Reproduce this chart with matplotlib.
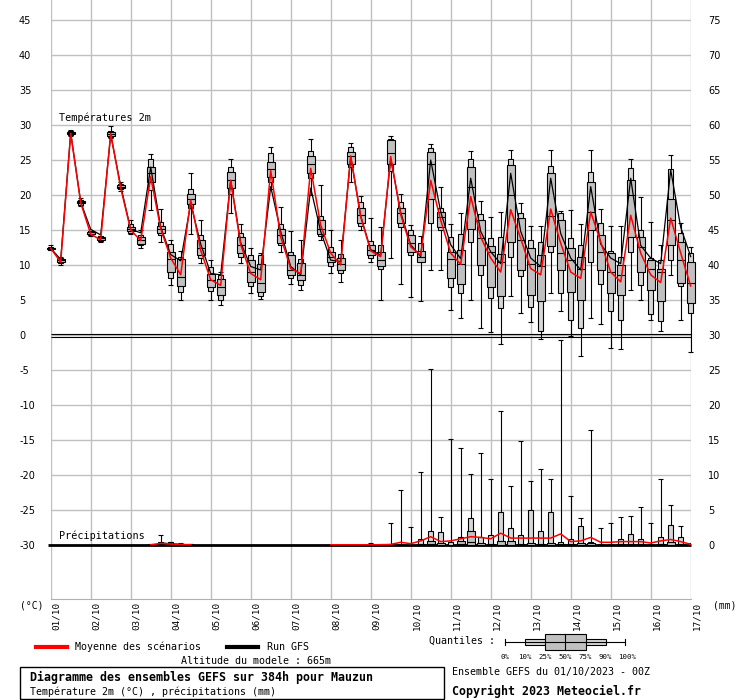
import numpy as np
import matplotlib.pyplot as plt
from matplotlib.patches import Rectangle
from matplotlib.lines import Line2D
from matplotlib.transforms import ScaledTranslation

plt.rcParams['axes.unicode_minus'] = False
MONO = 'DejaVu Sans Mono'

# days on the x axis, one box every 6h (0h .. 384h)
days = ['01/10', '02/10', '03/10', '04/10', '05/10', '06/10', '07/10', '08/10', '09/10',
        '10/10', '11/10', '12/10', '13/10', '14/10', '15/10', '16/10', '17/10']

# 2m temperature quantiles (degC)
t_p0 = [12.1, 10.0, 28.4, 18.4, 14.1, 13.3, 28.2, 20.6, 14.4, 12.4,
        17.9, 13.3, 7.1, 5.0, 14.4, 10.3, 5.0, 4.3, 17.5, 10.3,
        6.0, 5.1, 20.8, 11.9, 7.3, 6.4, 20.0, 13.6, 8.9, 7.6,
        21.9, 15.0, 10.5, 5.0, 11.0, 7.3, 5.5, 4.9, 9.3, 9.3,
        3.6, 2.5, 5.0, 1.0, 0.4, -1.3, 5.6, 3.1, 1.8, -0.5,
        6.0, 3.5, -0.2, -3.0, 2.5, 1.6, -1.9, -2.0, 6.5, 5.0,
        2.2, 0.6, 8.6, 2.1, -2.4]
t_p10 = [12.2, 10.3, 28.6, 18.6, 14.3, 13.5, 28.3, 20.8, 14.6, 12.8,
         20.7, 14.3, 8.2, 6.2, 18.1, 11.0, 6.3, 5.0, 20.2, 11.2,
         7.0, 5.6, 21.9, 12.9, 8.2, 7.2, 22.5, 14.2, 9.8, 8.8,
         24.0, 15.6, 11.0, 9.4, 23.5, 15.4, 11.4, 10.4, 16.0, 15.0,
         6.9, 6.0, 13.3, 8.6, 5.3, 3.8, 11.2, 8.4, 4.0, 0.6,
         11.9, 6.0, 2.2, 1.0, 10.5, 7.3, 3.4, 2.1, 11.9, 7.1,
         3.0, 2.0, 10.7, 7.0, 3.2]
t_p25 = [12.3, 10.5, 28.7, 18.8, 14.4, 13.6, 28.5, 21.0, 14.8, 13.0,
         21.9, 14.6, 9.0, 7.0, 18.7, 11.4, 6.9, 5.7, 21.0, 11.7,
         7.6, 6.2, 22.6, 13.1, 8.6, 7.8, 23.2, 14.5, 10.5, 9.3,
         24.5, 16.0, 11.4, 9.8, 24.5, 16.0, 11.9, 10.5, 19.5, 15.5,
         8.1, 7.3, 15.2, 10.0, 6.9, 5.6, 13.3, 9.3, 5.7, 4.8,
         12.7, 9.3, 6.2, 5.0, 15.0, 9.3, 6.0, 5.7, 14.0, 9.0,
         6.4, 4.8, 12.9, 7.4, 4.6]
t_p50 = [12.4, 10.7, 28.8, 19.0, 14.5, 13.8, 28.7, 21.2, 15.1, 13.6,
         23.1, 15.1, 10.8, 8.3, 19.5, 12.5, 7.9, 6.9, 22.2, 12.9,
         9.0, 7.5, 23.7, 14.3, 9.3, 8.6, 24.5, 15.2, 11.2, 10.1,
         25.6, 17.1, 12.1, 10.7, 26.0, 17.5, 13.1, 11.2, 24.5, 16.8,
         10.8, 10.2, 21.2, 13.8, 11.9, 10.5, 20.0, 13.6, 10.1, 9.8,
         17.0, 11.7, 10.7, 9.5, 17.6, 11.9, 9.0, 8.6, 20.0, 12.6,
         9.5, 9.0, 16.4, 10.7, 7.5]
t_p75 = [12.5, 10.9, 29.0, 19.2, 14.7, 14.0, 29.0, 21.4, 15.4, 14.0,
         24.0, 15.6, 11.9, 10.8, 20.2, 13.6, 8.7, 8.0, 23.3, 14.0,
         10.7, 10.1, 24.7, 15.2, 11.4, 10.3, 25.6, 16.4, 11.9, 11.0,
         26.2, 18.2, 12.9, 11.9, 27.8, 18.2, 14.3, 12.0, 26.1, 17.6,
         11.9, 12.2, 24.0, 16.4, 12.7, 11.6, 24.3, 16.7, 12.4, 11.4,
         23.1, 16.4, 12.4, 11.2, 21.9, 14.3, 11.7, 10.0, 22.1, 14.0,
         10.7, 9.5, 19.4, 13.3, 10.5]
t_p90 = [12.6, 11.0, 29.1, 19.3, 14.8, 14.1, 29.2, 21.6, 15.8, 14.3,
         25.1, 16.2, 13.0, 11.2, 20.8, 14.3, 9.7, 8.6, 24.0, 14.6,
         11.5, 11.4, 26.0, 15.8, 11.8, 10.8, 26.3, 17.0, 12.6, 11.6,
         26.8, 19.0, 13.5, 12.8, 28.0, 19.0, 15.0, 13.2, 26.7, 18.2,
         14.0, 14.4, 25.2, 17.3, 13.8, 14.0, 25.1, 17.4, 13.6, 13.3,
         24.1, 17.4, 13.8, 12.9, 23.3, 16.0, 12.0, 11.2, 23.9, 15.0,
         11.0, 10.7, 23.7, 14.6, 11.7]
t_p100 = [12.8, 11.2, 29.3, 19.6, 14.9, 14.2, 29.8, 21.9, 16.4, 15.0,
          25.9, 18.0, 13.6, 12.0, 23.2, 16.4, 10.7, 9.0, 25.1, 15.9,
          12.4, 11.7, 26.9, 18.3, 14.8, 13.6, 28.0, 21.5, 15.0, 13.6,
          27.5, 19.8, 16.7, 15.5, 28.4, 20.2, 15.7, 14.2, 27.3, 21.2,
          15.8, 17.5, 26.3, 19.1, 16.8, 17.6, 26.5, 18.9, 15.6, 15.6,
          26.5, 17.7, 17.8, 15.9, 26.4, 18.0, 15.6, 15.6, 25.2, 19.7,
          16.2, 12.9, 25.7, 16.0, 12.6]
t_mean = [12.4, 10.4, 28.8, 18.9, 14.4, 13.6, 28.8, 21.0, 15.0, 13.5,
          22.6, 15.2, 11.0, 8.6, 19.3, 12.1, 7.9, 7.1, 22.1, 12.9,
          8.8, 7.9, 23.5, 14.0, 9.5, 8.8, 23.8, 15.7, 11.7, 10.0,
          25.6, 16.9, 12.0, 11.2, 25.5, 17.2, 12.6, 11.4, 22.1, 16.4,
          11.7, 10.1, 19.8, 14.0, 11.0, 9.0, 17.9, 13.8, 9.5, 8.6,
          18.0, 13.1, 9.0, 8.1, 17.6, 13.3, 9.0, 7.6, 17.1, 11.7,
          8.6, 7.5, 16.7, 11.7, 7.0]
t_gfs = [12.4, 10.8, 28.9, 19.0, 15.1, 14.3, 28.6, 21.3, 15.1, 14.6,
         24.0, 15.4, 11.5, 10.6, 18.8, 13.0, 8.8, 8.6, 22.1, 13.2,
         9.8, 9.3, 21.2, 14.8, 9.8, 8.6, 21.0, 14.8, 10.7, 10.5,
         25.5, 17.0, 12.2, 11.4, 25.2, 17.5, 12.9, 11.2, 25.0, 17.6,
         12.9, 10.9, 22.4, 14.8, 11.9, 10.2, 23.1, 14.8, 11.0, 9.8,
         22.4, 14.5, 11.0, 9.3, 21.2, 13.0, 11.0, 10.2, 22.4, 12.8,
         11.0, 10.2, 23.6, 15.4, 11.2]

# precipitation quantiles (mm), lower quantiles are 0
p_p50 = [0, 0, 0, 0, 0, 0, 0, 0, 0, 0,
         0, 0, 0, 0, 0, 0, 0, 0, 0, 0,
         0, 0, 0, 0, 0, 0, 0, 0, 0, 0,
         0, 0, 0, 0, 0, 0, 0, 0, 0.1, 0,
         0, 0.1, 0.4, 0, 0, 0, 0, 0, 0, 0,
         0, 0, 0, 0, 0, 0, 0, 0, 0, 0,
         0, 0, 0, 0, 0]
p_p75 = [0, 0, 0, 0, 0, 0, 0, 0, 0, 0,
         0, 0.2, 0.1, 0, 0, 0, 0, 0, 0, 0,
         0, 0, 0, 0, 0, 0, 0, 0, 0, 0,
         0, 0, 0, 0, 0, 0, 0, 0.2, 0.6, 0.3,
         0, 0.6, 2.0, 0.3, 0.2, 0.6, 0.6, 0.2, 0.3, 0.2,
         0.3, 0.1, 0.1, 0.3, 0.3, 0, 0, 0.2, 0.2, 0.2,
         0, 0.2, 0.4, 0.2, 0]
p_p90 = [0, 0, 0, 0, 0, 0, 0, 0, 0, 0,
         0, 0.5, 0.4, 0.2, 0.1, 0, 0, 0, 0, 0,
         0, 0, 0, 0, 0, 0, 0, 0, 0, 0,
         0, 0, 0, 0, 0, 0.1, 0, 0.8, 2.0, 1.9,
         0.4, 1.1, 3.8, 1.2, 1.5, 4.7, 2.4, 1.5, 5.0, 2.0,
         4.7, 0.5, 0.8, 2.7, 0.5, 0.1, 0.2, 0.8, 1.6, 0.8,
         0.2, 1.1, 2.9, 1.1, 0.1]
p_max = [0, 0, 0, 0, 0, 0, 0, 0, 0, 0,
         0.1, 1.5, 0.5, 0.3, 0.2, 0, 0, 0, 0, 0,
         0, 0, 0, 0, 0, 0, 0, 0, 0, 0,
         0, 0, 0.3, 0.2, 3.1, 7.8, 2.6, 10.5, 25.2, 4.0,
         15.1, 13.8, 10.2, 13.2, 9.5, 19.2, 8.4, 14.8, 9.2, 10.8,
         9.5, 29.3, 7.0, 3.8, 16.4, 2.4, 3.2, 4.0, 4.1, 5.5,
         3.1, 9.5, 5.7, 2.7, 0.3]
p_mean = [0, 0, 0, 0, 0, 0, 0, 0, 0, 0,
          0.05, 0.25, 0.15, 0.1, 0.05, 0, 0, 0, 0, 0,
          0, 0, 0, 0, 0, 0, 0, 0, 0.05, 0.05,
          0.05, 0.05, 0.05, 0.05, 0.1, 0.4, 0.2, 0.6, 1.2, 0.5,
          0.6, 0.9, 1.2, 1.1, 0.9, 1.7, 1.0, 1.0, 1.0, 1.0,
          1.0, 1.6, 0.5, 0.6, 1.1, 0.4, 0.4, 0.5, 0.5, 0.5,
          0.3, 0.6, 0.8, 0.5, 0.1]
p_gfs = [0, 0, 0, 0, 0, 0, 0, 0, 0, 0,
         0, 0.3, 0.2, 0.1, 0, 0, 0, 0, 0, 0,
         0, 0, 0, 0, 0, 0, 0, 0, 0, 0,
         0, 0, 0, 0, 0, 0, 0, 0, 0, 0,
         0, 0, 0, 0, 0, 0, 0, 0, 0, 0,
         0, 0, 0, 0, 0, 0, 0, 0, 0, 0,
         0, 0, 0, 0, 0]

W, H = 740, 700
fx = lambda px: px / W
fy = lambda py: 1 - py / H

fig = plt.figure(figsize=(7.4, 7.0), dpi=100)
ax = fig.add_axes([fx(50.7), fy(599), fx(690.7) - fx(50.7), fy(0) - fy(599)])
ylo, yhi = -37.7, 335 / 7.0
ax.set_xlim(0, 16)
ax.set_ylim(ylo, yhi)

x = np.arange(len(t_p50)) * 0.25
t_p0, t_p10, t_p25, t_p50, t_p75, t_p90, t_p100 = map(np.array, (t_p0, t_p10, t_p25, t_p50, t_p75, t_p90, t_p100))

# grid
ax.set_xticks(range(len(days)))
ax.set_xticklabels(days, rotation=90, family=MONO, fontsize=6.7)
ax.set_yticks(range(-30, 50, 5))
ax.grid(True, color='#c0c0c0', lw=1)
ax.set_axisbelow(True)
for s in ('left', 'right', 'top'):
    ax.spines[s].set_visible(False)
ax.spines['bottom'].set_color('#b0b0b0')
ax.tick_params(axis='x', length=0, pad=2)
ax.tick_params(axis='y', length=0, pad=22.8, labelsize=7)
for lbl in ax.get_yticklabels():
    lbl.set_horizontalalignment('left')
off = ScaledTranslation(0.06, 0, fig.dpi_scale_trans)
for lbl in ax.get_xticklabels():
    lbl.set_transform(lbl.get_transform() + off)

# double zero line
ax.hlines([0.22, -0.22], 0, 16, color='black', lw=0.8, zorder=2)

# temperature boxes
ax.vlines(x, t_p0, t_p100, color='black', lw=0.8, zorder=3, clip_on=False)
ax.hlines(t_p0, x - 0.06, x + 0.06, color='black', lw=0.8, zorder=3, clip_on=False)
ax.hlines(t_p100, x - 0.06, x + 0.06, color='black', lw=0.8, zorder=3, clip_on=False)
b1 = ax.bar(x, t_p90 - t_p10, bottom=t_p10, width=0.125, color='#d6d6d6',
            edgecolor='black', lw=0.8, zorder=4)
b2 = ax.bar(x, t_p75 - t_p25, bottom=t_p25, width=0.2, color='#c0c0c0',
            edgecolor='black', lw=0.8, zorder=5)
for p in list(b1) + list(b2):
    p.set_clip_on(False)
ax.hlines(t_p50, x - 0.1, x + 0.1, color='black', lw=0.8, zorder=6, clip_on=False)
ax.plot(x, t_gfs, color='black', lw=0.9, zorder=7, clip_on=False)
ax.plot(x, t_mean, color='red', lw=1.1, zorder=8, clip_on=False)

# precipitation on the right scale (0 mm at -30 degC)
ax2 = ax.twinx()
ax2.set_ylim(ylo + 30, yhi + 30)
ax2.set_yticks(range(0, 80, 5))
ax2.tick_params(axis='y', length=0, pad=12.5, labelsize=7)
for s in ax2.spines.values():
    s.set_visible(False)

p_p50, p_p75, p_p90, p_max, p_mean, p_gfs = map(np.array, (p_p50, p_p75, p_p90, p_max, p_mean, p_gfs))
ax2.hlines(0, -0.08, 16, color='black', lw=2, zorder=2, clip_on=False)
m = p_max > 0
ax2.vlines(x[m], 0, p_max[m], color='black', lw=0.8, zorder=3)
ax2.hlines(p_max[m], x[m] - 0.06, x[m] + 0.06, color='black', lw=0.8, zorder=3)
m = p_p90 > 0
ax2.bar(x[m], p_p90[m], bottom=0, width=0.125, color='#d6d6d6', edgecolor='black', lw=0.8, zorder=4)
m = p_p75 > 0
ax2.bar(x[m], p_p75[m], bottom=0, width=0.2, color='#c0c0c0', edgecolor='black', lw=0.8, zorder=5)
m = p_p50 > 0
ax2.hlines(p_p50[m], x[m] - 0.1, x[m] + 0.1, color='black', lw=0.8, zorder=6)
ax2.plot(x, np.where(p_gfs > 0, p_gfs, np.nan), color='black', lw=0.9, zorder=7)
ax2.plot(x, np.where(p_mean > 0, p_mean, np.nan), color='red', lw=1.1, zorder=8)

# in-plot labels
ax.text(0.21, 31.0, 'Températures 2m', family=MONO, fontsize=7.3, va='center', ha='left')
ax.text(0.21, -28.6, 'Précipitations', family=MONO, fontsize=7.3, va='center', ha='left')

# axis units
fig.text(fx(20), fy(606), '(°C)', family=MONO, fontsize=7, va='center', ha='left')
fig.text(fx(713), fy(606), '(mm)', family=MONO, fontsize=7, va='center', ha='left')

# legend
fig.add_artist(Line2D([fx(36), fx(67)], [fy(647), fy(647)], color='red', lw=3))
fig.text(fx(75), fy(647), 'Moyenne des scénarios', family=MONO, fontsize=7.2, va='center')
fig.add_artist(Line2D([fx(227), fx(258)], [fy(647), fy(647)], color='black', lw=3))
fig.text(fx(267), fy(647), 'Run GFS', family=MONO, fontsize=7.2, va='center')
fig.text(fx(256), fy(661), 'Altitude du modele : 665m', family=MONO, fontsize=7.2,
         va='center', ha='center')

# quantile key
fig.text(fx(495), fy(641), 'Quantiles :', family=MONO, fontsize=7.2, va='center', ha='right')
fig.add_artist(Line2D([fx(505), fx(625)], [fy(642), fy(642)], color='black', lw=0.8))
for px in (505, 625):
    fig.add_artist(Line2D([fx(px), fx(px)], [fy(639), fy(645)], color='black', lw=0.8))
fig.add_artist(Rectangle((fx(525), fy(645)), fx(606) - fx(525), fy(639) - fy(645),
                         facecolor='#d6d6d6', edgecolor='black', lw=0.8))
fig.add_artist(Rectangle((fx(545), fy(650)), fx(586) - fx(545), fy(634) - fy(650),
                         facecolor='#c0c0c0', edgecolor='black', lw=0.8))
fig.add_artist(Line2D([fx(565), fx(565)], [fy(634), fy(650)], color='black', lw=0.8))
for px, q in zip((505, 525, 545, 565, 585, 605, 627),
                 ('0%', '10%', '25%', '50%', '75%', '90%', '100%')):
    fig.text(fx(px), fy(657), q, family=MONO, fontsize=5.3, va='center', ha='center')

# title box
fig.add_artist(Rectangle((fx(20), fy(699)), fx(444) - fx(20), fy(667) - fy(699),
                         facecolor='none', edgecolor='black', lw=1))
fig.text(fx(30), fy(677), 'Diagramme des ensembles GEFS sur 384h pour Mauzun',
         family=MONO, fontsize=8.4, fontweight='bold', va='center')
fig.text(fx(30), fy(692), 'Température 2m (°C) , précipitations (mm)',
         family=MONO, fontsize=7.2, va='center')
fig.text(fx(452), fy(672), 'Ensemble GEFS du 01/10/2023 - 00Z',
         family=MONO, fontsize=7.2, va='center')
fig.text(fx(452), fy(691), 'Copyright 2023 Meteociel.fr',
         family=MONO, fontsize=8.4, fontweight='bold', va='center')

fig.savefig('out.png', dpi=100)
